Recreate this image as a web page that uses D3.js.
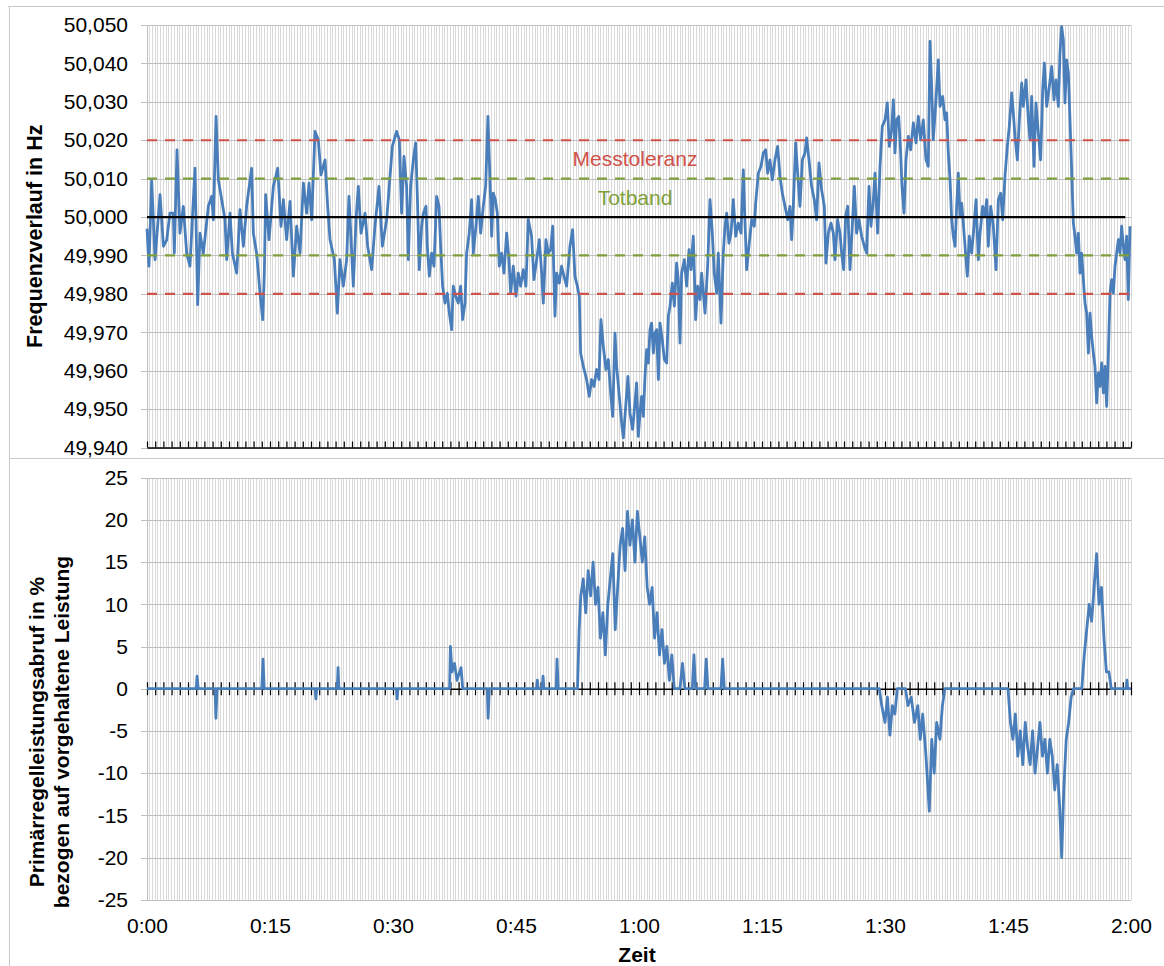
<!DOCTYPE html>
<html>
<head>
<meta charset="utf-8">
<script src="https://cdn.jsdelivr.net/npm/d3@7"></script>
<style>
  html, body { margin: 0; padding: 0; background: #fff; }
  svg { display: block; font-family: "Liberation Sans", Arial, sans-serif; }
</style>
</head>
<body>
<svg id="chart" width="1164" height="966"></svg>
<script>
// Frequency record: time in minutes, deviation from 50 Hz in mHz
const freqTime = [
  0, 0.24, 0.57, 0.98, 1.59, 2.0, 2.4, 2.8, 3.21, 3.33, 3.66, 4.02, 4.43, 4.84, 5.24, 5.85, 6.18, 6.46, 6.87, 7.48,
  7.89, 8.09, 8.42, 8.70, 9.11, 9.51, 9.72, 10.12, 10.41, 10.94, 11.34, 11.75, 12.15, 12.76, 12.97, 13.37, 13.58, 13.78, 14.11, 14.31,
  14.47, 14.88, 15.41, 15.94, 16.34, 16.63, 17.03, 17.44, 17.85, 18.25, 18.66, 19.07, 19.47, 19.76, 20.08, 20.49, 20.89, 21.22, 21.71, 22.03,
  22.32, 22.85, 23.21, 23.54, 23.94, 24.35, 24.63, 25.16, 25.49, 25.77, 26.1, 26.59, 26.91, 27.4, 27.8, 28.29, 28.7, 29.23, 29.92,
  30.44, 30.77, 31.05, 31.34, 31.66, 31.87, 32.15, 32.48, 32.76, 32.96, 33.21, 33.49, 33.70, 34.02, 34.18, 34.43, 34.71, 35.0, 35.32, 35.61,
  35.81, 36.05, 36.34, 36.62, 36.87, 37.15, 37.35, 37.64, 37.96, 38.25, 38.49, 38.78, 38.98, 39.30, 39.59, 39.79, 40.12, 40.40, 40.69, 41.01,
  41.30, 41.58, 41.83, 42.03, 42.23, 42.48, 42.72, 42.96, 43.25, 43.53, 43.86, 44.14, 44.35, 44.67, 45.0, 45.28, 45.56, 45.89, 46.21, 46.5,
  46.9, 47.19, 47.52, 47.84, 48.13, 48.33, 48.65, 48.94, 49.22, 49.47, 49.75, 49.96, 50.28, 50.56, 50.85, 51.17, 51.58, 51.9, 52.19, 52.48,
  52.72, 52.88, 53.21, 53.61, 53.94, 54.22, 54.51, 54.83, 55.12, 55.36, 55.65, 55.97, 56.26, 56.54, 56.79, 57.07, 57.27, 57.6, 57.88, 58.09,
  58.41, 58.65, 58.9, 59.22, 59.51, 59.71, 59.92, 60.12, 60.32, 60.53, 60.73, 60.93, 61.14, 61.34, 61.54, 61.75, 61.95, 62.15, 62.36, 62.56,
  62.84, 63.09, 63.37, 63.58, 63.78, 64.06, 64.31, 64.59, 64.79, 65.0, 65.2, 65.53, 65.81, 66.1, 66.34, 66.62, 66.91, 67.15, 67.44, 67.64,
  68.05, 68.37, 68.66, 68.94, 69.18, 69.47, 69.67, 70.0, 70.28, 70.49, 70.69, 70.97, 71.22, 71.5, 71.79, 72.11, 72.44, 72.72, 72.92, 73.13,
  73.41, 73.74, 74.06, 74.23, 74.55, 74.88, 75.16, 75.45, 75.69, 75.97, 76.26, 76.58, 76.91, 77.19, 77.48, 77.8, 78.13, 78.41, 78.62, 78.82,
  79.1, 79.35, 79.63, 79.92, 80.24, 80.44, 80.73, 81.05, 81.38, 81.66, 81.95, 82.27, 82.6, 82.8, 83.09, 83.41, 83.7, 83.9, 84.22, 84.51,
  84.71, 84.96, 85.2, 85.45, 85.73, 86.01, 86.26, 86.54, 86.83, 87.15, 87.48, 87.76, 88.05, 88.29, 88.58, 88.78, 89.1, 89.39, 89.67,
  90.0, 90.28, 90.53, 90.81, 91.02, 91.22, 91.42, 91.67, 91.91, 92.07, 92.32, 92.56, 92.85, 93.13, 93.46, 93.78, 94.06, 94.35, 94.67, 95.0,
  95.28, 95.49, 95.69, 95.89, 96.22, 96.5, 96.71, 97.03, 97.32, 97.52, 97.72, 97.93, 98.13, 98.33, 98.54, 98.74, 98.94, 99.15, 99.35, 99.55,
  99.76, 100.04, 100.28, 100.57, 100.85, 101.1, 101.38, 101.59, 101.91, 102.19, 102.4, 102.6, 102.89, 103.21, 103.54, 103.82, 104.11, 104.35, 104.63, 104.92,
  105.16, 105.45, 105.65, 105.85, 106.14, 106.38, 106.67, 106.87, 107.2, 107.48, 107.68, 107.89, 108.17, 108.41, 108.7, 108.98, 109.23, 109.43, 109.72, 110.04,
  110.33, 110.61, 110.85, 111.14, 111.34, 111.54, 111.75, 111.95, 112.15, 112.36, 112.56, 112.76, 112.97, 113.17, 113.37, 113.58, 113.78, 113.98, 114.19, 114.39,
  114.59, 114.8, 115.0, 115.2, 115.41, 115.61, 115.81, 116.02, 116.22, 116.42, 116.63, 116.83, 117.03, 117.24, 117.44, 117.64, 117.85, 118.05, 118.25, 118.46,
  118.66, 118.86, 119.07, 119.27, 119.47, 119.67, 119.88
];
const freqDev = [
  -3, -12.8, 9.7, -11.1, 5.8, -7.6, -6, 1.0, 1.0, -9.4, 17.5, -4.2, 2.8, -9.4, -12.8, 12.7, -22.8, -4.2, -9.4, 2.8,
  5.4, -0.7, 26.2, 9.7, 4.5, -0.7, -11.1, 1.0, -9.4, -14.6, 1.9, -7.6, 2.8, 12.7, -4.2, -9.4, -14.6, -19.8, -26.7, -14.6,
  5.8, -5.9, 8.0, 12.7, -2.4, 4.5, -5.9, 4.1, -15.4, -2.4, -9.4, 8.8, 1.0, 8.8, -0.7, 22.3, 20.1, 11.0, 14.9, 2.8,
  -5.9, -11.1, -25.0, -11.1, -18.0, -11.1, 5.4, -18.0, -0.7, 8.0, -4.2, 1.0, -7.6, -13.7, -2.4, 8.0, -7.6, -0.7, 18.4,
  22.3, 20.1, 1.0, 15.8, 8.0, -11.1, 8.0, 14.9, 19.3, 6.2, -13.7, -2.4, 1.0, 2.8, -7.6, -15.4, -9.4, -12.8, 5.4, 2.8,
  -7.6, -18.0, -22.4, -19.8, -25.0, -29.3, -18.0, -20.6, -22.4, -18.0, -26.7, -22.4, -9.4, -4.2, 4.5, -9.4, -2.4, 5.4, -4.2, 2.8,
  8.0, 26.2, 9.7, -5.0, 6.2, 4.5, 1.0, -12.8, -9.4, -14.6, -4.2, -11.1, -19.8, -12.8, -20.6, -14.6, -18.0, -13.7, -18.0, -0.7,
  -5.0, -16.3, -11.1, -5.9, -14.6, -22.4, -5.9, -9.4, -8.5, -2.4, -25.8, -14.6, -17.2, -12.8, -15.4, -18.0, -7.6, -3.3, -15.4, -18.0,
  -20.6, -35.4, -38.9, -42.3, -46.7, -42.3, -44.1, -39.7, -42.3, -26.7, -33.7, -39.7, -37.1, -45.8, -51.9, -30.2, -38.9, -46.7, -53.6, -57.5,
  -48.4, -41.5, -51.0, -55.3, -48.4, -43.2, -57.1, -51.0, -46.7, -51.9, -41.5, -34.5, -38.0, -29.3, -27.6, -35.4, -30.2, -29.3, -42.3, -27.6,
  -31.9, -37.1, -38.0, -25.8, -23.2, -17.2, -23.2, -12.0, -16.3, -32.8, -14.6, -11.1, -18.0, -8.5, -13.7, -5.0, -26.7, -18.0, -21.5, -14.6,
  -25.0, -12.8, 4.5, -4.2, -14.6, -19.8, -9.4, -27.6, -9.4, -2.4, 1.0, -6.8, -4.2, 4.5, -5.0, -1.6, -4.2, 12.3, -0.7, -13.7,
  -7.6, -0.7, -2.4, 3.6, 11.4, 13.2, 16.7, 17.5, 11.4, 14.9, 9.7, 14.9, 18.4, 10.6, 6.2, 2.8, -0.7, 2.8, -5.9, 2.8,
  19.3, 11.4, 2.8, 14.9, 16.7, 20.6, 14.9, 8.0, 4.5, -0.7, 14.1, 7.1, 2.8, -12.0, -4.2, -1.6, -4.2, -11.1, -0.7, -4.2,
  -9.4, -13.7, 0.2, 2.8, -13.7, -2.4, 8.0, -4.2, -0.7, -5.0, -7.6, -9.4, 8.0, -2.4, 4.5, 11.4, -4.2, 13.2, 23.6,
  25.3, 29.7, 18.4, 22.7, 30.5, 16.7, 25.3, 26.2, 16.7, 8.0, 1.0, 14.9, 21.0, 17.5, 24.5, 19.3, 26.2, 20.1, 25.3, 14.9,
  13.2, 45.7, 34.0, 20.1, 30.5, 40.9, 28.8, 31.4, 25.3, 27.1, 16.7, 9.7, -0.7, -5.0, -7.6, 2.8, 11.4, 0.2, 3.6, -1.6,
  -7.6, -15.4, -5.0, -9.4, -2.4, 4.5, -11.1, -4.2, 2.8, 0.2, 4.5, -7.6, 2.8, -2.4, -13.7, 4.5, 6.2, -0.7, 10.6, 18.4,
  23.6, 32.3, 27.1, 21.0, 14.9, 25.3, 34.9, 28.8, 35.7, 25.3, 20.1, 31.4, 13.2, 29.7, 21.9, 14.9, 33.1, 40.1, 28.8, 34.0,
  39.2, 30.5, 35.7, 28.8, 42.7, 49.6, 46.1, 29.7, 40.9, 37.5, 25.3, 12.3, -1.6, -5.0, -9.4, -4.2, -14.6, -9.4, -16.3, -22.4,
  -25.0, -35.4, -25.0, -31.0, -35.4, -38.9, -48.4, -40.6, -44.1, -38.0, -45.8, -38.9, -49.3, -35.4, -19.8, -16.3, -19.8, -12.8, -9.4, -5.9,
  -9.4, -2.4, -7.6, -11.1, -5.0, -21.5, -2.4
];

// Primary control power called, in % of reserved power
const powerTime = [
  0, 6.0, 6.1, 6.25, 8.3, 8.4, 8.55, 14.0, 14.15, 14.3, 20.5, 20.6, 20.7, 23.2, 23.3, 23.4, 30.4, 30.5, 30.6, 36.9,
  37.0, 37.2, 37.5, 37.8, 38.3, 38.5, 41.5, 41.6, 41.75, 47.5, 47.6, 47.7, 48.2, 48.3, 48.4, 49.9, 50.0, 50.15, 52.5, 52.7,
  52.9, 53.2, 53.5, 53.8, 54.1, 54.4, 54.7, 55.0, 55.3, 55.6, 55.9, 56.2, 56.5, 56.8, 57.1, 57.4, 57.7, 58.0, 58.3, 58.6,
  58.9, 59.2, 59.5, 59.8, 60.1, 60.4, 60.7, 61.0, 61.3, 61.6, 61.9, 62.2, 62.5, 62.8, 63.1, 63.4, 63.7, 64.0, 64.3, 65.0,
  65.3, 65.6, 66.5, 66.7, 66.9, 68.0, 68.2, 68.4, 70.0, 70.2, 70.4, 89.3, 89.6, 90.0, 90.3, 90.6, 90.9, 91.2, 91.5, 92.5,
  92.8, 93.2, 93.6, 94.0, 94.3, 94.6, 95.0, 95.4, 95.7, 96.0, 96.3, 96.7, 97.0, 97.3, 105.0, 105.3, 105.6, 105.9, 106.2, 106.5,
  106.8, 107.1, 107.4, 107.7, 108.0, 108.3, 108.6, 108.9, 109.2, 109.5, 109.8, 110.1, 110.4, 110.7, 111.0, 111.3, 111.55, 111.8, 112.1, 112.4,
  112.7, 113.0, 114.0, 114.3, 114.6, 114.9, 115.2, 115.5, 115.8, 116.1, 116.4, 116.7, 117.0, 117.3, 117.6, 119.4, 119.5, 119.6, 120
];
const powerPct = [
  0, 0, 1.5, 0, 0, -3.5, 0, 0, 3.5, 0, 0, -1.2, 0, 0, 2.5, 0, 0, -1.2, 0, 0,
  5.0, 2.0, 3.0, 1.0, 2.5, 0, 0, -3.5, 0, 0, 1.0, 0, 0, 1.5, 0, 0, 3.5, 0, 0, 7,
  11, 13, 9, 14, 11, 15, 10, 12, 6, 9, 4, 10, 13, 16, 7, 12, 17, 19, 14, 21,
  17, 20, 15, 21, 18, 15, 18, 12, 10, 12, 6, 9, 4, 7, 3, 5, 1, 4, 0, 0,
  3, 0, 0, 4, 0, 0, 3.5, 0, 0, 3.5, 0, 0, -2, -4, -1, -5.5, -2, -3, 0, 0,
  -2, -1, -4, -2, -6, -3, -8, -14.5, -6, -10, -4, -6, -2, 0, 0, -4, -6, -3, -8, -5,
  -9, -4, -7, -9, -5, -10, -7, -4, -8, -6, -10, -6, -8, -12, -9, -14, -20, -12, -6, -4,
  -1, 0, 0, 4, 7, 10, 8, 12, 16, 10, 12, 6, 2, 2, 0, 0, 1, 0, 0
];

// Axis ticks and reference lines
const freqTicks = [-60, -50, -40, -30, -20, -10, 0, 10, 20, 30, 40, 50];
const powerTicks = [-25, -20, -15, -10, -5, 0, 5, 10, 15, 20, 25];
const timeLabelTicks = [0, 15, 30, 45, 60, 75, 90, 105, 120];
const toleranceBand = [-20, 20];   // Messtoleranz, mHz
const deadBand = [-10, 10];        // Totband, mHz

const svg = d3.select("#chart");
const FONT = "Liberation Sans, Arial, sans-serif";

const plotLeft = 147, plotRight = 1131;
const top1 = 25, bottom1 = 447.5;
const top2 = 477.7, bottom2 = 899.7;

const x = d3.scaleLinear().domain([0, 120]).range([plotLeft, plotRight]);
const yF = d3.scaleLinear().domain([-60, 50]).range([bottom1, top1]);
const yP = d3.scaleLinear().domain([-25, 25]).range([bottom2, top2]);

const de = d3.formatLocale({ decimal: ",", thousands: ".", grouping: [3], currency: ["", " €"] });
const fmtHz = de.format(".3f");
const fmtTime = m => `${Math.floor(m / 60)}:${String(m % 60).padStart(2, "0")}`;

// Outer frame and panel separator
const frame = svg.append("g").attr("stroke", "#c8c8c8").attr("stroke-width", 1.2).attr("shape-rendering", "crispEdges");
frame.append("line").attr("x1", 8).attr("x2", 1164).attr("y1", 6.5).attr("y2", 6.5);
frame.append("line").attr("x1", 9.5).attr("x2", 9.5).attr("y1", 6).attr("y2", 966);
frame.append("line").attr("x1", 9).attr("x2", 1164).attr("y1", 458.5).attr("y2", 458.5);

// Vertical grid every 20 s in both panels
const gridTimes = d3.range(0, 361).map(i => i / 3);
function vGrid(y0, y1) {
  svg.append("g")
    .attr("stroke", "#d9d9d9").attr("stroke-width", 1).attr("shape-rendering", "crispEdges")
    .selectAll("line").data(gridTimes).join("line")
    .attr("x1", d => x(d)).attr("x2", d => x(d))
    .attr("y1", y0).attr("y2", y1);
}
vGrid(top1, bottom1);
vGrid(top2, bottom2);

// Y axes with horizontal gridlines
function yAxis(scale, ticks, fmt) {
  const g = svg.append("g").attr("transform", `translate(${plotLeft - 6},0)`)
    .call(d3.axisLeft(scale).tickValues(ticks).tickFormat(fmt)
      .tickSizeInner(-(plotRight - plotLeft + 6)).tickSizeOuter(0).tickPadding(13));
  g.select(".domain").remove();
  g.selectAll(".tick line").attr("stroke", "#bfbfbf").attr("shape-rendering", "crispEdges");
  g.selectAll(".tick text").attr("font-family", FONT).attr("font-size", 21).attr("fill", "#000");
  return g;
}
yAxis(yF, freqTicks, d => fmtHz(50 + d / 1000));
yAxis(yP, powerTicks, d => String(d));

// Left axis lines
svg.append("line").attr("x1", plotLeft).attr("x2", plotLeft).attr("y1", top1).attr("y2", bottom1)
  .attr("stroke", "#bfbfbf").attr("shape-rendering", "crispEdges");
svg.append("line").attr("x1", plotLeft).attr("x2", plotLeft).attr("y1", top2).attr("y2", bottom2)
  .attr("stroke", "#bfbfbf").attr("shape-rendering", "crispEdges");

// Minute ticks on the frequency panel base
const minuteTicks = d3.range(0, 121);
const axF = svg.append("g").attr("transform", `translate(0,${bottom1})`)
  .call(d3.axisBottom(x).tickValues(minuteTicks).tickFormat("").tickSizeInner(-6).tickSizeOuter(0));
axF.select(".domain").attr("stroke", "#000").attr("stroke-width", 1.5);
axF.selectAll(".tick line").attr("stroke", "#000").attr("stroke-width", 1.2);

// Zero axis of the power panel with crossing minute ticks
const axP = svg.append("g").attr("transform", `translate(0,${yP(0)})`)
  .call(d3.axisBottom(x).tickValues(minuteTicks).tickFormat("").tickSizeInner(6).tickSizeOuter(0));
axP.select(".domain").attr("stroke", "#000").attr("stroke-width", 1.5);
axP.selectAll(".tick line").attr("y1", -6.5).attr("y2", 6.5).attr("stroke", "#000").attr("stroke-width", 1.2);

// Time labels under the power panel
const axT = svg.append("g").attr("transform", `translate(0,${bottom2})`)
  .call(d3.axisBottom(x).tickValues(timeLabelTicks).tickFormat(fmtTime).tickSize(0).tickPadding(18));
axT.select(".domain").remove();
axT.selectAll(".tick text").attr("font-family", FONT).attr("font-size", 21).attr("fill", "#000");

// Series
const blue = "#4a7ebb";
const freqData = freqTime.map((t, i) => [t, freqDev[i]]);
const powerData = powerTime.map((t, i) => [t, powerPct[i]]);

svg.append("path").datum(freqData)
  .attr("fill", "none").attr("stroke", blue).attr("stroke-width", 2.8).attr("stroke-linejoin", "round")
  .attr("d", d3.line().x(d => x(d[0])).y(d => yF(d[1])));

svg.append("path").datum(powerData)
  .attr("fill", "none").attr("stroke", blue).attr("stroke-width", 2.8).attr("stroke-linejoin", "round")
  .attr("d", d3.line().x(d => x(d[0])).y(d => yP(d[1])));

// Tolerance and dead band lines
const red = "#d0504a", green = "#7f9f3c";
function hDash(v, color) {
  svg.append("line").attr("x1", plotLeft).attr("x2", plotRight).attr("y1", yF(v)).attr("y2", yF(v))
    .attr("stroke", color).attr("stroke-width", 2.2).attr("stroke-dasharray", "10,8");
}
toleranceBand.forEach(v => hDash(v, red));
deadBand.forEach(v => hDash(v, green));

// Nominal frequency
svg.append("line").attr("x1", plotLeft).attr("x2", x(119.3)).attr("y1", yF(0)).attr("y2", yF(0))
  .attr("stroke", "#000").attr("stroke-width", 2.2);

// Band labels
svg.append("text").attr("x", 635).attr("y", yF(15) + 7).attr("text-anchor", "middle")
  .attr("font-family", FONT).attr("font-size", 21).attr("fill", red).text("Messtoleranz");
svg.append("text").attr("x", 635).attr("y", yF(5) + 7).attr("text-anchor", "middle")
  .attr("font-family", FONT).attr("font-size", 21).attr("fill", green).text("Totband");

// Axis titles
svg.append("text").attr("transform", `translate(42,${(top1 + bottom1) / 2}) rotate(-90)`)
  .attr("text-anchor", "middle").attr("font-family", FONT).attr("font-size", 21.5).attr("font-weight", "bold")
  .text("Frequenzverlauf in Hz");
const t2 = svg.append("text").attr("transform", `translate(0,732) rotate(-90)`)
  .attr("text-anchor", "middle").attr("font-family", FONT).attr("font-size", 21).attr("font-weight", "bold");
t2.append("tspan").attr("x", 0).attr("y", 44).text("Primärregelleistungsabruf in %");
t2.append("tspan").attr("x", 0).attr("y", 69).text("bezogen auf vorgehaltene Leistung");

svg.append("text").attr("x", 637).attr("y", 962).attr("text-anchor", "middle")
  .attr("font-family", FONT).attr("font-size", 21).attr("font-weight", "bold").text("Zeit");
</script>
</body>
</html>
